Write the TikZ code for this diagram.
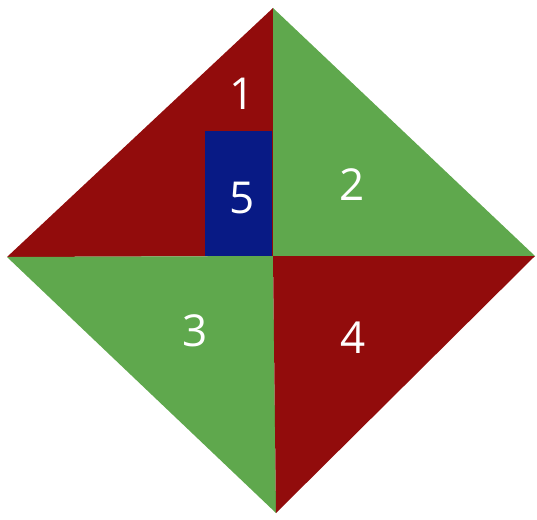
\documentclass[tikz,border=0pt]{standalone}
\usepackage{fontspec}
\setmainfont{Open Sans}
\definecolor{darkred}{HTML}{920C0C}
\definecolor{leaf}{HTML}{5FA84D}
\definecolor{navy}{HTML}{081A85}
\begin{document}
\begin{tikzpicture}[x=1pt,y=-1pt,every node/.style={font=\fontsize{44}{44}\selectfont,text=white},part/.style={line width=.6pt,line join=round}]
\path[use as bounding box] (0,0) rectangle (537,519);

\coordinate (top) at (273,8);
\coordinate (left) at (7,257);
\coordinate (right) at (535,256);
\coordinate (bottom) at (276,513);
\coordinate (mid) at (273,256);

\fill[part,darkred] (top)--(left)--(mid)--cycle;
\fill[part,leaf] (top)--(mid)--(right)--cycle;
\fill[part,leaf] (left)--(mid)--(bottom)--cycle;
\fill[part,darkred] (mid)--(right)--(bottom)--cycle;
\fill[navy] (205,131) rectangle (272,256);

\node (one) at (242,94) {1};
\node (two) at (352,185) {2};
\node (three) at (195,331) {3};
\node (four) at (353,338) {4};
\node (five) at (242,198) {5};

\end{tikzpicture}
\end{document}
